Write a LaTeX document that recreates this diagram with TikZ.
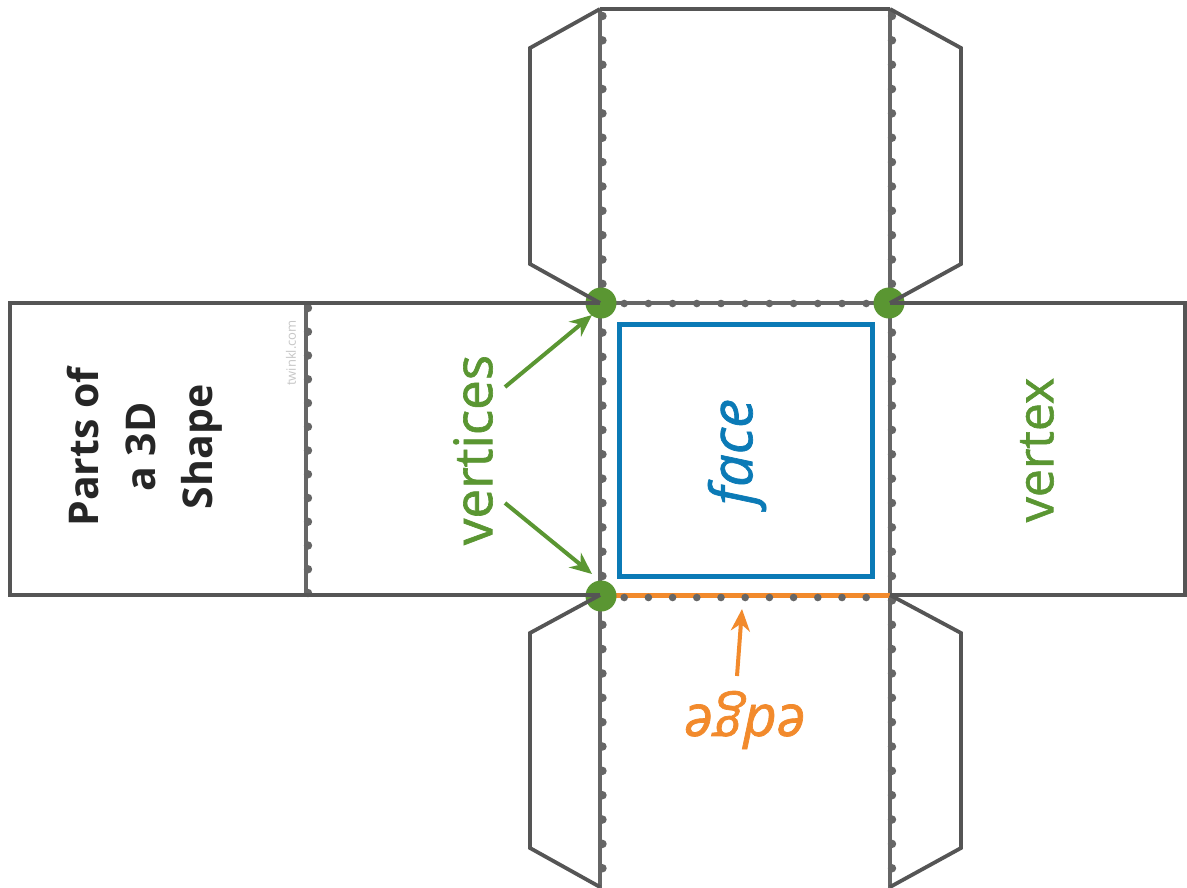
\documentclass[tikz,border=0pt]{standalone}
\usepackage{fontspec}
\setmainfont{Open Sans}
\usetikzlibrary{arrows.meta}
\definecolor{outl}{HTML}{555555}
\definecolor{fold}{HTML}{666666}
\definecolor{vgreen}{HTML}{5A9632}
\definecolor{fblue}{HTML}{0B7AB6}
\definecolor{eorange}{HTML}{F28A2C}
\tikzset{
  outline/.style={draw=outl, line width=3.8pt, line join=miter},
  foldline/.style={draw=fold, line width=3.4pt},
  folddot/.style={fill=fold},
  vdot/.style={fill=vgreen},
  lbl/.style={inner sep=0pt},
  garrow/.style={draw=vgreen, line width=4pt, -{Stealth[length=22pt,width=19pt]}},
  oarrow/.style={draw=eorange, line width=4pt, -{Stealth[length=22pt,width=19pt]}}
}
\begin{document}
\begin{tikzpicture}[x=1pt,y=-1pt]
\useasboundingbox (0,0) rectangle (1187,887);
\fill[white] (0,0) rectangle (1187,887);
% fold lines
\draw[foldline] (600,9) -- (600,890);
\draw[foldline] (890,9) -- (890,890);
\draw[foldline] (306,303) -- (306,595);
\draw[foldline] (600,303) -- (890,303);
\draw[draw=eorange, line width=4.5pt] (600,595.5) -- (890,595.5);
% dots on fold lines
\foreach \i in {0,...,36} {
  \fill[folddot] (602.5,{16+24.35*\i}) circle (4.2pt);
  \fill[folddot] (892,{16+24.35*\i}) circle (4.2pt);
}
\foreach \i in {0,...,12} {
  \fill[folddot] (308,{308+23.75*\i}) circle (4.2pt);
}
\foreach \i in {1,...,11} {
  \fill[folddot] ({600+24.2*\i},303.5) circle (3.8pt);
  \fill[folddot] ({600+24.2*\i},597.5) circle (3.8pt);
}
% vertices
\coordinate (v1) at (601,303);
\coordinate (v2) at (889,303);
\coordinate (v3) at (601,596);
\fill[vdot] (v1) circle (15.5pt);
\fill[vdot] (v2) circle (15.5pt);
\fill[vdot] (v3) circle (15.5pt);
% solid outline
\draw[outline] (600,303) -- (10,303) -- (10,595) -- (600,595);
\draw[outline] (890,303) -- (1185,303) -- (1185,595) -- (890,595);
\draw[outline] (600,9) -- (890,9);
\draw[outline] (600,9) -- (530,48) -- (530,264) -- (600,303);
\draw[outline] (890,9) -- (961,48) -- (961,264) -- (890,303);
\draw[outline] (600,595) -- (530,633) -- (530,848) -- (600,887);
\draw[outline] (890,595) -- (961,633) -- (961,848) -- (890,887);
% face square
\draw[draw=fblue, line width=5pt] (619,324) rectangle (872,576);
% labels
\node[lbl, text=vgreen, rotate=90, font=\fontsize{53}{56}\selectfont\addfontfeature{FakeBold=1.2}] (vertices) at (473,450) {vertices};
\node[lbl, text=vgreen, rotate=90, font=\fontsize{50}{54}\selectfont\addfontfeature{FakeBold=1.2}] (vertex) at (1037,450) {vertex};
\node[lbl, text=fblue, rotate=90, font=\fontsize{58}{62}\selectfont\itshape\addfontfeature{FakeBold=1.2}] (face) at (737,452) {face};
\node[lbl, text=eorange, rotate=180, font=\fontsize{58}{62}\selectfont\itshape\addfontfeature{FakeBold=1.2}] (edge) at (745,720) {edge};
\node[inner sep=0pt, rotate=90, align=center, text=black!85, font=\fontsize{41}{57}\selectfont\bfseries] (title) at (145,447) {Parts of\\a 3D\\Shape};
\node[inner sep=0pt, rotate=90, text=black!22, font=\fontsize{13}{14}\selectfont] (wm) at (291,353) {twinkl.com};
% arrows
\coordinate (a1) at (505,387);
\coordinate (a2) at (505,503);
\coordinate (a3) at (737,676);
\coordinate (t1) at (592,315);
\coordinate (t2) at (592,574);
\coordinate (t3) at (742,609);
\draw[garrow] (a1) -- (t1);
\draw[garrow] (a2) -- (t2);
\draw[oarrow] (a3) -- (t3);
\end{tikzpicture}
\end{document}
